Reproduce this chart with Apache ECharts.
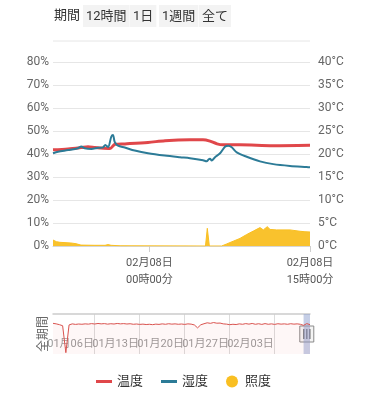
<!DOCTYPE html>
<html><head><meta charset="utf-8">
<script src="https://cdn.jsdelivr.net/npm/echarts@6/dist/echarts.min.js"></script>
<style>html,body{margin:0;padding:0;background:#fff}#c{width:367px;height:400px}</style>
</head><body><div id="c"></div><script>
// ---------- data ----------
const periodLabel = '期間';
const periodButtons = ['12時間', '1日', '1週間', '全て'];
const seriesNames = ['温度', '湿度', '照度'];
const overviewName = '全期間';

const windowStart = '2024-02-07T15:00:00';
const windowHours = 24;
const mainTicks = ['2024-02-08T00:00:00', '2024-02-08T15:00:00'];
const humidityAxisTicks = [0, 10, 20, 30, 40, 50, 60, 70, 80];
const tempAxisTicks = [0, 5, 10, 15, 20, 25, 30, 35, 40];

// hours after windowStart
const tempHours  = [0, 1.40, 2.61, 3.27, 3.92, 4.39, 5.32, 5.79, 6.72, 8.87, 10.46, 12.79, 14.01, 14.66, 15.32, 15.88, 17.46, 20.55, 24.0];
const tempValues = [20.9, 21.1, 21.4, 21.6, 21.4, 21.3, 21.2, 22.1, 22.2, 22.5, 22.9, 23.1, 23.1, 22.8, 22.2, 22.0, 22.0, 21.8, 21.9];

const humHours  = [0, 0.47, 1.40, 2.33, 2.64, 2.96, 3.58, 4.20, 4.67, 4.88, 5.14, 5.44, 5.60, 5.76, 6.07, 6.70, 7.63, 8.87, 10.43, 11.86, 12.79, 14.01, 14.35, 14.52, 14.66, 14.82, 15.13, 15.60, 16.06, 16.37, 16.69, 17.16, 18.09, 19.33, 20.57, 22.13, 23.69, 24.0];
const humValues = [40.3, 41.0, 41.7, 42.5, 43.3, 42.5, 42.2, 42.7, 42.9, 43.9, 43.0, 47.5, 48.3, 45.3, 43.6, 42.8, 41.5, 40.3, 39.3, 38.6, 38.2, 37.3, 36.8, 37.6, 37.9, 37.2, 38.6, 40.3, 43.2, 43.6, 42.9, 40.7, 38.8, 36.8, 35.6, 34.8, 34.3, 34.2];

const lightHours  = [0, 0.31, 0.65, 1.68, 2.15, 2.61, 3.92, 4.86, 5.14, 5.42, 6.26, 14.24, 14.41, 14.60, 15.75, 16.22, 17.46, 18.09, 18.71, 19.33, 19.64, 20.01, 20.27, 20.89, 22.13, 23.07, 23.53, 24.0];
const lightValues = [2.6, 1.9, 1.6, 1.3, 1.0, 0.4, 0.3, 0.3, 0.6, 0.3, 0.1, 0, 7.7, 0, 0, 0.9, 3.3, 5.0, 6.5, 8.0, 7.0, 8.4, 7.2, 7.0, 7.0, 6.4, 6.2, 6.1];

// overview (full period), one value every 12 hours
const overviewStart = '2023-12-30T15:00:00';
const overviewStepHours = 12;
const overviewTemp = [23.0, 22.6, 22.0, 21.2, 1.0, 21.8, 22.6, 22.2, 22.5, 22.3, 22.6, 22.4, 22.8, 22.5, 22.9, 22.6, 22.8, 22.4, 22.7, 22.5, 22.9, 22.6, 22.8, 22.5, 22.7, 22.3, 22.5, 22.2, 22.4, 22.1, 22.3, 22.0, 22.4, 22.2, 22.6, 22.3, 22.7, 22.4, 22.6, 22.3, 22.5, 22.2, 22.6, 22.4, 21.8, 19.6, 21.9, 22.7, 23.4, 23.0, 23.6, 23.1, 23.2, 22.6, 22.4, 22.0, 22.3, 22.1, 22.6, 22.3, 22.8, 22.4, 22.9, 22.3, 22.7, 22.2, 22.8, 22.3, 22.6, 22.2, 22.7, 22.4, 22.6, 22.3, 22.7, 22.4, 22.6, 22.3, 21.5, 22.8, 22.0];
const overviewTicks = ['2024-01-06T00:00:00', '2024-01-13T00:00:00', '2024-01-20T00:00:00', '2024-01-27T00:00:00', '2024-02-03T00:00:00'];

// ---------- helpers ----------
const H = 3600 * 1000;
const ws = new Date(windowStart).getTime();
const we = ws + windowHours * H;
const os = new Date(overviewStart).getTime();
const pad = n => String(n).padStart(2, '0');
const toPairs = (hours, vals) => hours.map((h, i) => [ws + h * H, vals[i]]);
const ovData = overviewTemp.map((v, i) => [os + i * overviewStepHours * H, v]);
const mainTickTimes = mainTicks.map(s => new Date(s).getTime());
const ovTickTimes = overviewTicks.map(s => new Date(s).getTime());
const ovTicksA = ovTickTimes.filter((t, i) => i % 2 === 0);
const ovTicksB = ovTickTimes.filter((t, i) => i % 2 === 1);

const RED = '#e0474a', TEAL = '#2c7b97', YELLOW = '#f9bf22';
const FONT = 'Roboto, "Noto Sans CJK JP", sans-serif';
const LINE_ICON = 'path://M0,0H16V3H0Z';

const chart = echarts.init(document.getElementById('c'), null, {renderer: 'canvas'});

// toolbar graphics
const btnLefts = [83, 130, 159, 199];
const toolbar = [{
  type: 'text', left: 54, top: 9,
  style: {text: periodLabel, font: '13px ' + FONT, fill: '#333'}
}].concat(periodButtons.map((b, i) => ({
  type: 'text', left: btnLefts[i], top: 5,
  style: {text: b, font: '13px ' + FONT, fill: '#333', backgroundColor: '#f3f3f3', padding: [5, 3, 4, 3]}
}))).concat([{
  type: 'line', shape: {x1: 53, y1: 41, x2: 310, y2: 41},
  style: {stroke: '#e6e6e6', lineWidth: 1}, silent: true
}]);

const fmtFull = v => { const d = new Date(v); return pad(d.getMonth() + 1) + '月' + pad(d.getDate()) + '日\n' + pad(d.getHours()) + '時' + pad(d.getMinutes()) + '分'; };
const fmtDay = v => { const d = new Date(v); return pad(d.getMonth() + 1) + '月' + pad(d.getDate()) + '日'; };

const ovLabel = ticks => ({customValues: ticks, inside: true, align: 'right', margin: 4, color: '#999', fontSize: 11, hideOverlap: false, showMinLabel: true, showMaxLabel: true, formatter: fmtDay});

const option = {
  animation: false,
  textStyle: {fontFamily: FONT},
  graphic: toolbar,
  legend: {
    top: 370, left: 'center', itemWidth: 16, itemHeight: 12, itemGap: 18,
    textStyle: {fontSize: 13, color: '#333'},
    data: [{name: seriesNames[0], icon: LINE_ICON}, {name: seriesNames[1], icon: LINE_ICON}, {name: seriesNames[2], icon: 'circle'}]
  },
  grid: [
    {left: 53, right: 57, top: 62, height: 184},
    {left: 53, right: 57, top: 314, height: 40}
  ],
  xAxis: [
    {
      type: 'value', gridIndex: 0, min: ws, max: we, scale: true,
      axisLine: {lineStyle: {color: '#d6d6d6'}},
      axisTick: {show: true, length: 6, lineStyle: {color: '#cfcfcf'}, customValues: mainTickTimes},
      axisLabel: {customValues: mainTickTimes, color: '#555', fontSize: 11, lineHeight: 17, margin: 9, hideOverlap: false, showMinLabel: true, showMaxLabel: true, formatter: fmtFull},
      splitLine: {show: false}
    },
    {
      type: 'value', gridIndex: 1, position: 'bottom', min: os, max: we, scale: true,
      axisLine: {show: false},
      axisTick: {show: false, customValues: ovTickTimes},
      axisLabel: {show: false},
      splitLine: {show: true, lineStyle: {color: '#dcdcdc'}}
    },
    {
      type: 'value', gridIndex: 1, position: 'top', min: 0, max: 1,
      axisLine: {show: true, lineStyle: {color: '#cccccc', width: 1.5}},
      axisTick: {show: false}, axisLabel: {show: false}, splitLine: {show: false}
    },
    {
      type: 'value', gridIndex: 1, position: 'bottom', min: os, max: we, scale: true,
      axisLine: {show: false}, axisTick: {show: false, customValues: ovTicksA},
      axisLabel: ovLabel(ovTicksA), splitLine: {show: false}
    },
    {
      type: 'value', gridIndex: 1, position: 'bottom', min: os, max: we, scale: true,
      axisLine: {show: false}, axisTick: {show: false, customValues: ovTicksB},
      axisLabel: ovLabel(ovTicksB), splitLine: {show: false}
    }
  ],
  yAxis: [
    {
      type: 'value', gridIndex: 0, position: 'left', min: humidityAxisTicks[0], max: humidityAxisTicks[humidityAxisTicks.length - 1], interval: humidityAxisTicks[1] - humidityAxisTicks[0],
      axisLabel: {formatter: '{value}%', color: '#666', fontSize: 12, margin: 4},
      axisLine: {show: false}, axisTick: {show: false},
      splitLine: {lineStyle: {color: '#e6e6e6'}}
    },
    {
      type: 'value', gridIndex: 0, position: 'right', min: tempAxisTicks[0], max: tempAxisTicks[tempAxisTicks.length - 1], interval: tempAxisTicks[1] - tempAxisTicks[0],
      axisLabel: {formatter: '{value}°C', color: '#666', fontSize: 12, margin: 8},
      axisLine: {show: false}, axisTick: {show: false}, splitLine: {show: false}
    },
    {
      type: 'value', gridIndex: 1, min: 0, max: 30,
      name: overviewName, nameLocation: 'middle', nameGap: 3,
      nameTextStyle: {color: '#666', fontSize: 12},
      axisLine: {show: false}, axisTick: {show: false}, axisLabel: {show: false}, splitLine: {show: false}
    }
  ],
  series: [
    {
      name: seriesNames[2], type: 'line', xAxisIndex: 0, yAxisIndex: 0, z: 1,
      data: toPairs(lightHours, lightValues), symbol: 'none', color: YELLOW,
      lineStyle: {width: 1, color: YELLOW}, areaStyle: {color: YELLOW, opacity: 0.95}
    },
    {
      name: seriesNames[0], type: 'line', xAxisIndex: 0, yAxisIndex: 1, z: 3,
      data: toPairs(tempHours, tempValues), symbol: 'none', smooth: 0.3, color: RED,
      lineStyle: {width: 3, color: RED}
    },
    {
      name: seriesNames[1], type: 'line', xAxisIndex: 0, yAxisIndex: 0, z: 4,
      data: toPairs(humHours, humValues), symbol: 'none', smooth: 0.3, color: TEAL,
      lineStyle: {width: 2, color: TEAL}
    },
    {
      name: overviewName + seriesNames[0], type: 'line', xAxisIndex: 1, yAxisIndex: 2,
      data: ovData, symbol: 'none', color: '#d9534f', silent: true,
      lineStyle: {width: 1, color: '#d9534f'},
      areaStyle: {color: 'rgba(235,90,90,0.07)'},
      markArea: {silent: true, itemStyle: {color: 'rgba(140,158,205,0.5)'}, data: [[{xAxis: ws}, {xAxis: we}]]}
    }
  ]
};
chart.setOption(option);

// slider handle over the selected window in the overview
const hp = chart.convertToPixel({gridIndex: 1}, [(ws + we) / 2, 15]);
chart.setOption({graphic: toolbar.concat([{
  type: 'group', x: hp[0], y: hp[1], silent: true, z: 100,
  children: [
    {type: 'rect', shape: {x: -7, y: -8, width: 14, height: 16}, style: {fill: '#f4f4f4', stroke: '#8a8a8a', lineWidth: 1}},
    {type: 'line', shape: {x1: -3, y1: -5, x2: -3, y2: 5}, style: {stroke: '#777', lineWidth: 1.5}},
    {type: 'line', shape: {x1: 0, y1: -5, x2: 0, y2: 5}, style: {stroke: '#777', lineWidth: 1.5}},
    {type: 'line', shape: {x1: 3, y1: -5, x2: 3, y2: 5}, style: {stroke: '#777', lineWidth: 1.5}}
  ]
}])});
</script></body></html>
